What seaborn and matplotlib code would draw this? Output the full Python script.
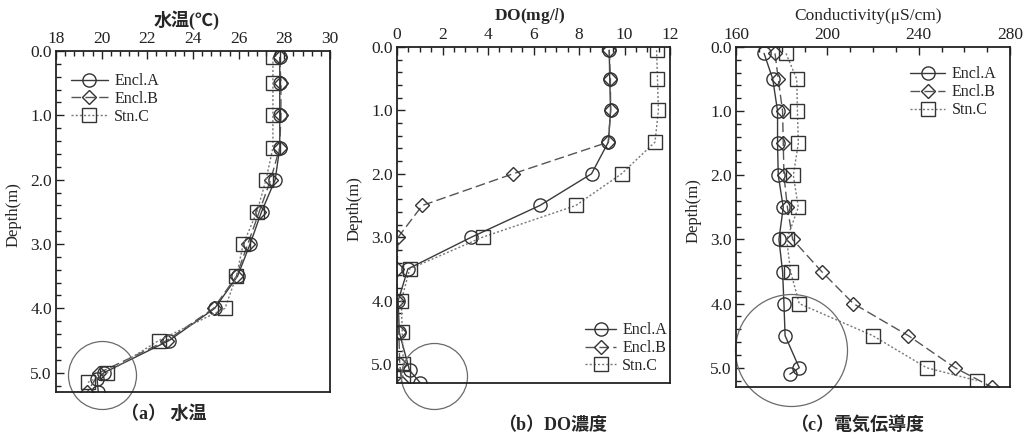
import numpy as np
import pandas as pd
import matplotlib
matplotlib.use('Agg')
import matplotlib.pyplot as plt
import seaborn as sns
from matplotlib.ticker import MultipleLocator, FormatStrFormatter

sns.set_style('ticks')
plt.rcParams['font.family'] = ['Liberation Serif', 'Noto Sans CJK JP']
plt.rcParams['mathtext.fontset'] = 'custom'
plt.rcParams['mathtext.rm'] = 'Liberation Serif'
plt.rcParams['mathtext.it'] = 'Liberation Serif:italic'
plt.rcParams['mathtext.bf'] = 'Liberation Serif:bold'

# ---------------- data ----------------
series_names = ['Encl.A', 'Encl.B', 'Stn.C']

# (a) water temperature
temp_depth_A = [0.1, 0.5, 1.0, 1.5, 2.0, 2.5, 3.0, 3.5, 4.0, 4.5, 5.0, 5.1, 5.3]
temp_A = [27.8, 27.8, 27.8, 27.8, 27.6, 27.0, 26.5, 25.95, 24.95, 22.95, 20.1, 19.8, 19.85]
temp_depth_B = [0.1, 0.5, 1.0, 1.5, 2.0, 2.5, 3.0, 3.5, 4.0, 4.5, 5.0, 5.3]
temp_B = [27.8, 27.85, 27.85, 27.8, 27.4, 26.9, 26.4, 25.9, 24.9, 22.85, 19.9, 19.37]
temp_depth_C = [0.1, 0.5, 1.0, 1.5, 2.0, 2.5, 3.0, 3.5, 4.0, 4.5, 5.0, 5.15]
temp_C = [27.5, 27.5, 27.5, 27.5, 27.2, 26.8, 26.2, 25.9, 25.4, 22.5, 20.25, 19.4]

# (b) DO
do_depth_A = [0.05, 0.5, 1.0, 1.5, 2.0, 2.5, 3.0, 3.5, 4.0, 4.5, 5.1, 5.3]
do_A = [9.33, 9.35, 9.39, 9.29, 8.55, 6.28, 3.27, 0.48, 0.05, 0.1, 0.55, 1.03]
do_depth_B = [0.05, 0.5, 1.0, 1.5, 2.0, 2.5, 3.0, 3.5, 4.0, 4.5, 5.0, 5.3]
do_B = [9.33, 9.38, 9.39, 9.29, 5.1, 1.11, 0.05, 0.0, 0.02, 0.08, 0.12, 0.2]
do_depth_C = [0.05, 0.5, 1.0, 1.5, 2.0, 2.5, 3.0, 3.5, 4.0, 4.5, 5.0, 5.2]
do_C = [11.41, 11.45, 11.49, 11.34, 9.87, 7.86, 3.76, 0.56, 0.19, 0.23, 0.28, 0.25]

# (c) conductivity
ec_depth_A = [0.1, 0.5, 1.0, 1.5, 2.0, 2.5, 3.0, 3.5, 4.0, 4.5, 5.0, 5.1]
ec_A = [172.3, 176.1, 178.2, 178.2, 178.5, 180.7, 178.8, 180.4, 181.0, 181.5, 187.7, 183.6]
ec_depth_B = [0.1, 0.5, 1.0, 1.5, 2.0, 2.5, 3.0, 3.5, 4.0, 4.5, 5.0, 5.3]
ec_B = [177.1, 178.5, 180.4, 180.7, 181.0, 182.5, 184.8, 197.5, 211.4, 235.5, 255.9, 272.0]
ec_depth_C = [0.1, 0.5, 1.0, 1.5, 2.0, 2.5, 3.0, 3.5, 4.0, 4.5, 5.0, 5.2]
ec_C = [181.9, 186.6, 186.9, 187.3, 185.1, 187.3, 182.2, 183.9, 187.7, 219.9, 243.5, 265.4]

# highlight circles (centre x, centre depth)
circle_centres = [(20.0, 5.03), (1.62, 5.19), (184.1, 4.72)]

panel_titles = ['水温(℃)', r'$\mathbf{DO(mg/}\mathit{l}\mathbf{)}$', 'Conductivity(μS/cm)']
panel_captions = ['（a） 水温', '（b）DO濃度', '（c）電気伝導度']

# ---------------- style ----------------
W, H = 1027, 440
fig = plt.figure(figsize=(W / 100, H / 100), dpi=100)

def px_axes(l, r, t, b):
    return fig.add_axes([l / W, 1 - b / H, (r - l) / W, (b - t) / H])

axes = [px_axes(56, 330, 51, 392), px_axes(397, 670, 47, 383), px_axes(736, 1010, 47, 387)]
xlims = [(18, 30), (0, 12), (160, 280)]
xmajor = [2, 2, 40]
xminor = [0.4, 0.5, 10]

styles = {
    'Encl.A': dict(marker='o', linestyle='-', color='#3a3a3a', markersize=9.5),
    'Encl.B': dict(marker='D', linestyle=(0, (7, 3)), color='#555555', markersize=6.8),
    'Stn.C': dict(marker='s', linestyle=(0, (1.5, 1.5)), color='#777777', markersize=10.5),
}

panel_data = [
    [(temp_depth_A, temp_A), (temp_depth_B, temp_B), (temp_depth_C, temp_C)],
    [(do_depth_A, do_A), (do_depth_B, do_B), (do_depth_C, do_C)],
    [(ec_depth_A, ec_A), (ec_depth_B, ec_B), (ec_depth_C, ec_C)],
]

circle_diam_px = [68, 66, 112]
legend_anchor = [(0.055, 0.935), (0.69, 0.181), (0.635, 0.943)]
legend_hlen = [2.3, 1.9, 2.2]

for i, ax in enumerate(axes):
    for name, (dep, val) in zip(series_names, panel_data[i]):
        df = pd.DataFrame({'value': val, 'depth': dep})
        st = styles[name]
        sns.lineplot(data=df, x='value', y='depth', sort=False, estimator=None,
                     ax=ax, label=name, color=st['color'], linestyle=st['linestyle'],
                     marker=st['marker'], markersize=st['markersize'],
                     markerfacecolor='none', markeredgecolor='#333333',
                     markeredgewidth=1.0, linewidth=1.0, legend=False)
    cx, cy = circle_centres[i]
    ax.plot([cx], [cy], marker='o', markersize=circle_diam_px[i] * 0.72,
            markerfacecolor='none', markeredgecolor='#6a6a6a', markeredgewidth=0.9,
            linestyle='none', clip_on=False)
    ax.set_xlim(*xlims[i])
    ax.set_ylim(5.3, 0)
    ax.xaxis.tick_top()
    ax.xaxis.set_major_locator(MultipleLocator(xmajor[i]))
    ax.xaxis.set_minor_locator(MultipleLocator(xminor[i]))
    ax.yaxis.set_major_locator(MultipleLocator(1.0))
    ax.yaxis.set_minor_locator(MultipleLocator(0.2))
    ax.yaxis.set_major_formatter(FormatStrFormatter('%.1f'))
    ax.tick_params(which='both', direction='in', top=True, bottom=False,
                   left=True, right=False, labelsize=12.5, colors='#222222', width=1.0)
    ax.tick_params(which='major', length=6, pad=3)
    ax.tick_params(which='minor', length=3.5)
    for sp in ax.spines.values():
        sp.set_visible(True)
        sp.set_linewidth(1.3)
        sp.set_color('#222222')
    ax.set_xlabel('')
    ax.set_ylabel('Depth(m)', fontsize=12)
    ax.yaxis.set_label_coords(-0.125, 0.52)
    handles, labels = ax.get_legend_handles_labels()
    ax.legend(handles[:3], labels[:3], loc='upper left', bbox_to_anchor=legend_anchor[i],
              frameon=False, fontsize=11.5, handlelength=legend_hlen[i], handletextpad=0.4,
              labelspacing=0.12, borderpad=0, borderaxespad=0)

title_pos = [(187, 20), (530, 16), (868, 16)]
title_sizes = [13, 12.5, 12.5]
for (x, y), t, w, s in zip(title_pos, panel_titles, ['bold', 'bold', 'normal'], title_sizes):
    fig.text(x / W, 1 - y / H, t, ha='center', va='center', fontsize=s, fontweight=w)

caption_pos = [(164, 414), (553, 425), (857, 425)]
for (x, y), t in zip(caption_pos, panel_captions):
    fig.text(x / W, 1 - y / H, t, ha='center', va='center', fontsize=13, fontweight='bold')

fig.savefig('out.png', dpi=100)
